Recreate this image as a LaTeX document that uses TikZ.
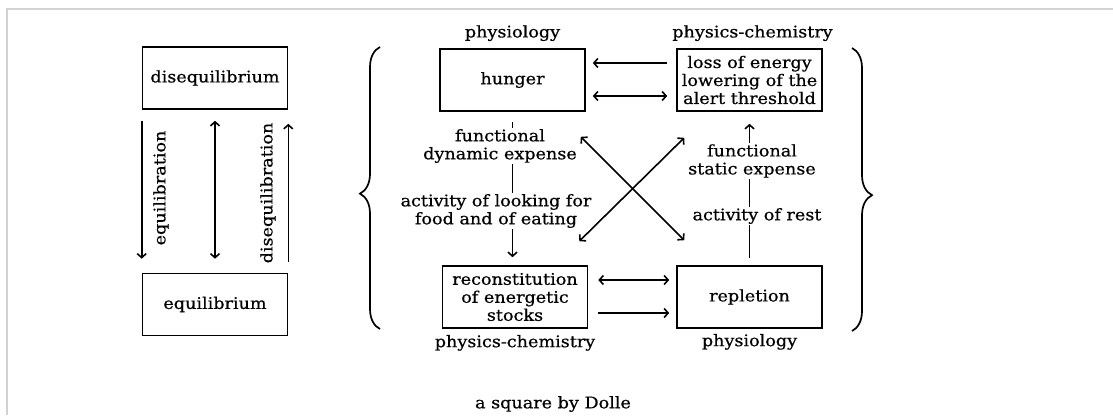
\documentclass[tikz,border=0pt]{standalone}
\usepackage{fontspec}
\setmainfont{DejaVu Serif}[FakeStretch=1.1, FakeBold=0.6]
\usepackage{tikz}
\usetikzlibrary{arrows.meta, positioning, decorations.pathreplacing}
\tikzset{
  box/.style={rectangle, draw, line width=1.6pt, minimum width=145pt, minimum height=62pt,
              align=center, inner sep=1pt},
  tag/.style={align=center, inner sep=1pt},
  arrow/.style={-{Straight Barb[length=4pt,width=9pt]}, line width=1.6pt},
  twoway/.style={{Straight Barb[length=4pt,width=9pt]}-{Straight Barb[length=4pt,width=9pt]}, line width=1.6pt},
  bracket/.style={decorate, decoration={brace, amplitude=20pt}, line width=1.7pt},
}

\begin{document}
\begin{tikzpicture}[x=1pt, y=-1pt, font=\fontsize{16}{18}\selectfont]
  \useasboundingbox (0,0) rectangle (1113,415);
  \draw[gray!35, line width=2.5pt] (7,415) -- (7,9) -- (1113,9);

  %% left column
  \node[box] (diseq) at (215,78) {disequilibrium};
  \node[box] (eq) at (215,304.5) {equilibrium};

  \draw[arrow] ([yshift=-11pt]diseq.south west) -- ([yshift=14pt]eq.north west);
  \draw[twoway] ([yshift=-11pt]diseq.south) -- ([yshift=14pt]eq.north);
  \draw[arrow] ([yshift=11pt]eq.north east) -- ([yshift=-14pt]diseq.south east);

  \node[tag, rotate=90] (eqlab) at (161,188) {equilibration};
  \node[tag, rotate=90] (diseqlab) at (268,193) {disequilibration};

  %% the square
  \node[box] (hunger) at (512.5,80) {hunger};
  \node[box] (loss) at (749.5,80) {loss of energy\\lowering of the\\alert threshold};
  \node[box] (recon) at (515,297) {reconstitution\\of energetic\\stocks};
  \node[box] (repl) at (749.5,297) {repletion};

  \node[tag, above=6pt of hunger] (physA) {physiology};
  \node[tag, above=6pt of loss, xshift=3pt] (chemA) {physics-chemistry};
  \node[tag, below=5pt of recon] (chemB) {physics-chemistry};
  \node[tag, below=4pt of repl] (physB) {physiology};

  % horizontal links
  \draw[arrow, shorten <=9pt, shorten >=7pt] ([yshift=17pt]loss.west) -- ([yshift=17pt]hunger.east);
  \draw[twoway, shorten <=7pt, shorten >=9pt] ([yshift=-16pt]hunger.east) -- ([yshift=-16pt]loss.west);
  \draw[twoway, shorten <=10pt, shorten >=7pt] ([yshift=17pt]recon.east) -- ([yshift=17pt]repl.west);
  \draw[arrow, shorten <=10pt, shorten >=7pt] ([yshift=-16pt]recon.east) -- ([yshift=-16pt]repl.west);

  % vertical links with their labels
  \draw[arrow, shorten <=10pt, shorten >=8pt] (hunger.south) -- (hunger.south |- recon.north);
  \node[tag, fill=white] (dynexp) at (500,146) {functional\\dynamic expense};
  \node[tag, fill=white] (looking) at (496,211) {activity of looking for\\food and of eating};

  \draw[arrow, shorten <=7pt, shorten >=12pt] (repl.north) -- (repl.north |- loss.south);
  \node[tag, fill=white] (statexp) at (752,161) {functional\\static expense};
  \node[tag, fill=white] (rest) at (757,216) {activity of rest};

  % diagonals
  \draw[twoway] ([xshift=-5pt,yshift=-25pt]hunger.south east) -- ([xshift=8pt,yshift=25pt]repl.north west);
  \draw[twoway] ([xshift=-9pt,yshift=24pt]recon.north east) -- ([xshift=8pt,yshift=-26pt]loss.south west);

  % braces
  \coordinate (lbot) at (380,329);
  \coordinate (ltop) at (380,47);
  \coordinate (rtop) at (852,48);
  \coordinate (rbot) at (852,331);
  \draw[bracket, decoration={aspect=0.48}] (lbot) -- (ltop);
  \draw[bracket, decoration={aspect=0.52}] (rtop) -- (rbot);

  \node[tag] (title) at (553,404) {a square by Dolle};
\end{tikzpicture}
\end{document}
